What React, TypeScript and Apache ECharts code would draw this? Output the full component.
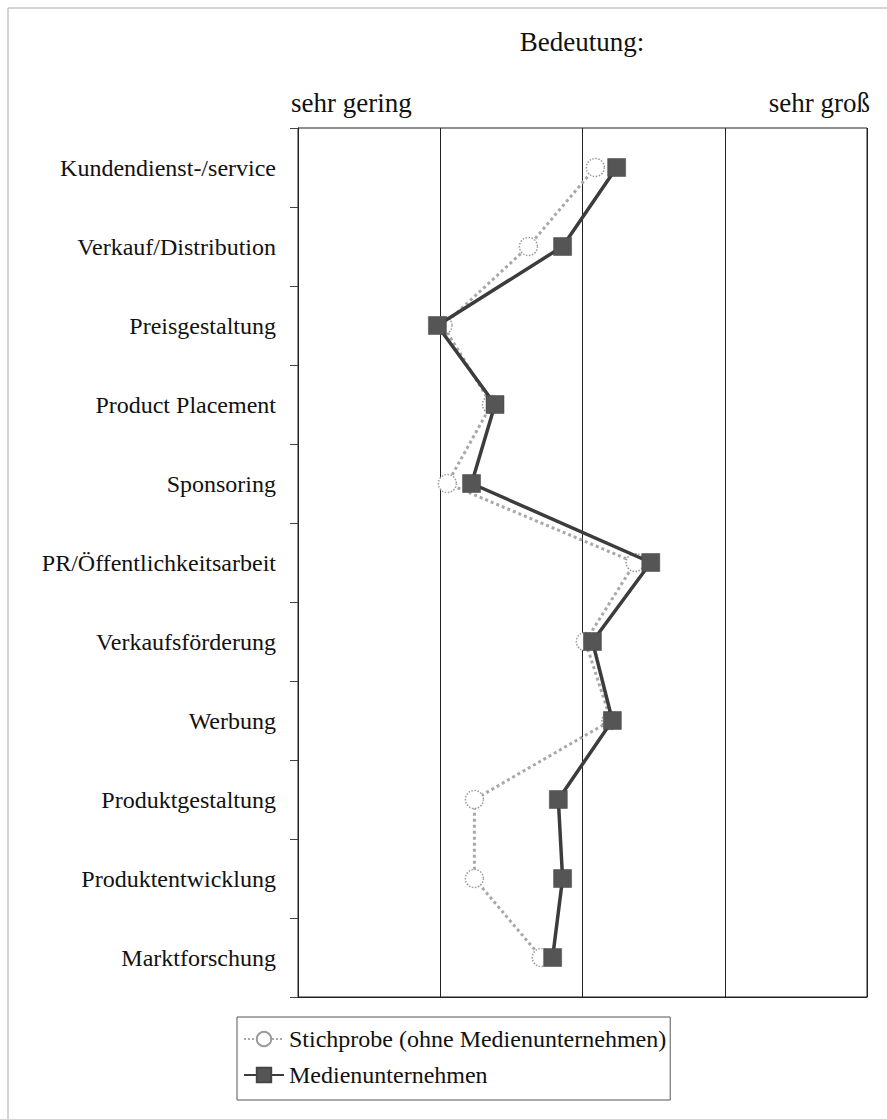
import React, { useEffect, useRef } from "react";
import * as echarts from "echarts";

const categories = [
  "Kundendienst-/service",
  "Verkauf/Distribution",
  "Preisgestaltung",
  "Product Placement",
  "Sponsoring",
  "PR/Öffentlichkeitsarbeit",
  "Verkaufsförderung",
  "Werbung",
  "Produktgestaltung",
  "Produktentwicklung",
  "Marktforschung",
];

const stichprobe = [3.09, 2.62, 2.02, 2.36, 2.05, 3.37, 3.02, 3.2, 2.24, 2.24, 2.71];
const medien = [3.24, 2.86, 1.98, 2.385, 2.22, 3.48, 3.07, 3.21, 2.83, 2.86, 2.79];

const seriesNames = ["Stichprobe (ohne Medienunternehmen)", "Medienunternehmen"];
const titleText = "Bedeutung:";
const lowText = "sehr gering";
const highText = "sehr groß";

const FONT = "'Liberation Serif', 'Times New Roman', serif";

export default function App() {
  const ref = useRef<HTMLDivElement>(null);
  useEffect(() => {
    if (!ref.current) return;
    const chart = echarts.init(ref.current, null, { renderer: "svg" });
    chart.setOption({
      animation: false,
      backgroundColor: "#ffffff",
      grid: {
        left: 298,
        right: 20,
        top: 128,
        bottom: 122,
        show: true,
        borderColor: "#222",
        borderWidth: 1,
        backgroundColor: "transparent",
      },
      xAxis: {
        type: "value",
        min: 1,
        max: 5,
        interval: 1,
        axisLabel: { show: false },
        axisTick: { show: false },
        axisLine: { show: true, lineStyle: { color: "#222", width: 1 } },
        splitLine: { show: true, lineStyle: { color: "#222", width: 1 } },
      },
      yAxis: {
        type: "category",
        data: categories,
        inverse: true,
        boundaryGap: true,
        axisLine: { show: true, lineStyle: { color: "#222", width: 1 } },
        axisTick: { show: true, length: 8, inside: false, lineStyle: { color: "#444" } },
        axisLabel: {
          margin: 22,
          fontFamily: FONT,
          fontSize: 24,
          color: "#111",
        },
        splitLine: { show: false },
      },
      legend: {
        orient: "vertical",
        left: 237,
        top: 1017,
        data: seriesNames,
        borderColor: "#555",
        borderWidth: 1,
        padding: [10, 4, 13, 6],
        itemWidth: 40,
        itemHeight: 18,
        itemGap: 12,
        textStyle: { fontFamily: FONT, fontSize: 24, color: "#111" },
      },
      graphic: [
        {
          type: "line",
          shape: { x1: 8, y1: 8, x2: 887, y2: 8 },
          style: { stroke: "#aaa", lineWidth: 1 },
        },
        {
          type: "line",
          shape: { x1: 8, y1: 8, x2: 8, y2: 1119 },
          style: { stroke: "#aaa", lineWidth: 1 },
        },
        {
          type: "text",
          x: 582,
          y: 42,
          style: {
            text: titleText,
            font: `27px ${FONT}`,
            fill: "#111",
            textAlign: "center",
            textVerticalAlign: "middle",
          },
        },
        {
          type: "text",
          x: 291,
          y: 103,
          style: {
            text: lowText,
            font: `27px ${FONT}`,
            fill: "#111",
            textAlign: "left",
            textVerticalAlign: "middle",
          },
        },
        {
          type: "text",
          x: 870,
          y: 103,
          style: {
            text: highText,
            font: `27px ${FONT}`,
            fill: "#111",
            textAlign: "right",
            textVerticalAlign: "middle",
          },
        },
      ],
      series: [
        {
          name: seriesNames[0],
          type: "line",
          data: stichprobe,
          symbol: "circle",
          symbolSize: 18,
          lineStyle: { color: "#a8a8a8", width: 3, type: "dotted" },
          itemStyle: { color: "#ffffff", borderColor: "#9a9a9a", borderWidth: 1.5, borderType: "dotted" },
          z: 2,
        },
        {
          name: seriesNames[1],
          type: "line",
          data: medien,
          symbol: "rect",
          symbolSize: 18,
          lineStyle: { color: "#3c3c3c", width: 3.5 },
          itemStyle: { color: "#555555", borderColor: "#444", borderWidth: 0.5 },
          z: 3,
        },
      ],
    });
    return () => chart.dispose();
  }, []);
  return (
    <div
      ref={ref}
      style={{ position: "absolute", left: 0, top: 0, width: 887, height: 1119 }}
    />
  );
}
